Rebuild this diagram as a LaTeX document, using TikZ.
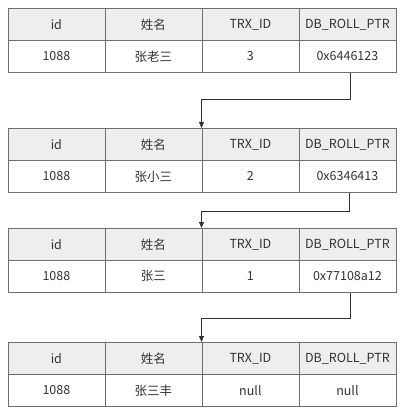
\documentclass[tikz,border=0pt]{standalone}
\usepackage{fontspec}
\setmainfont{Noto Sans CJK SC}
\usetikzlibrary{arrows.meta,calc}
\definecolor{bordc}{HTML}{6E6E6E}
\definecolor{headc}{HTML}{EEEEEE}
\definecolor{txtc}{HTML}{333333}
\tikzset{
  cell/.style={draw=bordc, line width=0.8pt, minimum width=97pt, minimum height=32pt,
    inner sep=0pt, anchor=north west, text=txtc, font=\fontsize{12.5}{14}\selectfont},
  hcell/.style={cell, fill=headc},
  bcell/.style={cell, fill=white},
  arr/.style={draw=txtc, line width=0.8pt, -{Triangle[length=6pt,width=5pt]}}
}
\newcommand{\mktable}[6]{%
  \node[hcell] (#1h1) at (7.5,#2) {id};
  \node[hcell] (#1h2) at (104.5,#2) {姓名};
  \node[hcell] (#1h3) at (201.5,#2) {TRX\_ID};
  \node[hcell] (#1h4) at (298.5,#2) {DB\_ROLL\_PTR};
  \node[bcell] (#1b1) at (7.5,#2+32) {1088};
  \node[bcell] (#1b2) at (104.5,#2+32) {#3};
  \node[bcell] (#1b3) at (201.5,#2+32) {#4};
  \node[bcell] (#1b4) at (298.5,#2+32) {#5};
}
\begin{document}
\begin{tikzpicture}[x=1pt,y=-1pt]
\useasboundingbox (0,0) rectangle (403,411);
\mktable{ta}{8}{张老三}{3}{0x6446123}{}
\mktable{tb}{128}{张小三}{2}{0x6346413}{}
\mktable{tc}{228}{张三}{1}{0x77108a12}{}
\mktable{td}{342}{张三丰}{null}{null}{}
\draw[arr] ($(tab4.south)+(3,0)$) -- ++(0,27) -| (tbh3.north west);
\draw[arr] ($(tbb4.south)+(1.5,0)$) -- ++(0,19) -| (tch3.north west);
\draw[arr] ($(tcb4.south)+(2.5,0)$) -- ++(0,26) -| (tdh3.north west);
\end{tikzpicture}
\end{document}
